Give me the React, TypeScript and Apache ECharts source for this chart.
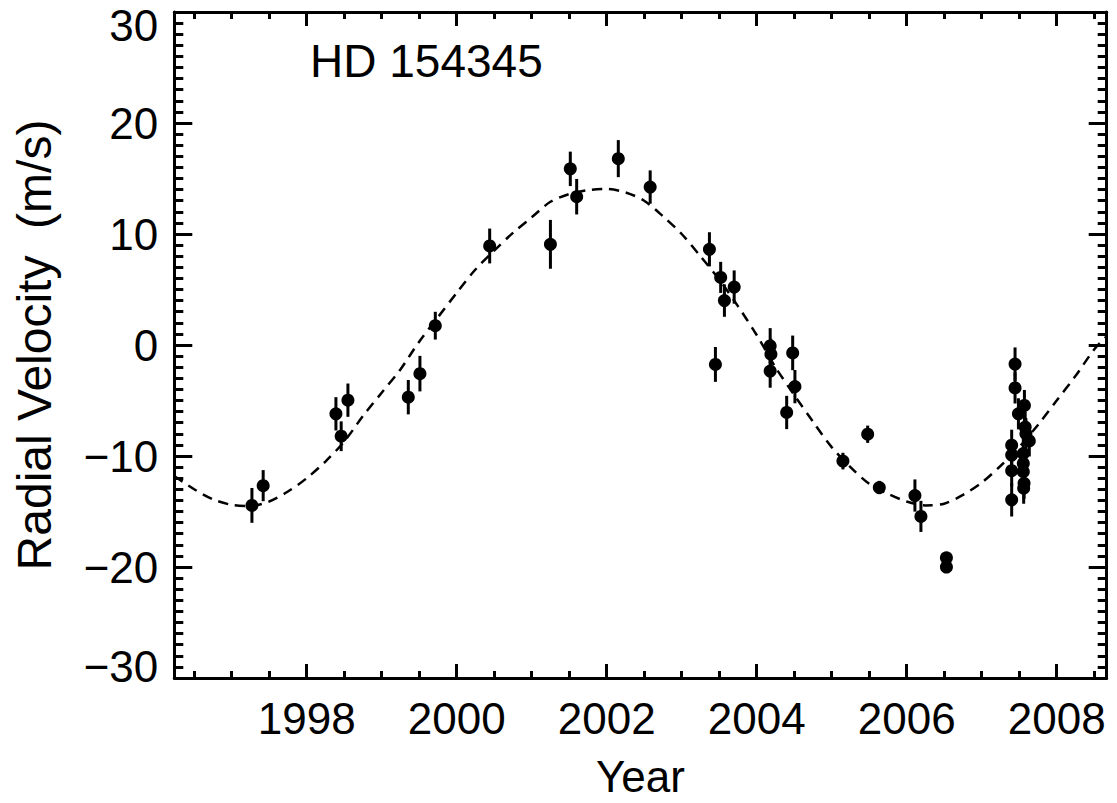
import React, { useEffect, useRef } from "react";
import * as echarts from "echarts";

// Observations: [year, radial velocity (m/s), error (m/s)]
const obsYear = [
  1997.27, 1997.42, 1998.39, 1998.46, 1998.55, 1999.355, 1999.51, 1999.715, 2000.44,
  2001.25, 2001.515, 2001.6, 2002.155, 2002.58, 2003.37, 2003.52, 2003.57, 2003.7, 2003.45,
  2004.18, 2004.19, 2004.18, 2004.48, 2004.51, 2004.4, 2005.15, 2005.48, 2005.635,
  2006.11, 2006.19, 2006.53, 2006.53,
  2007.445, 2007.445, 2007.57, 2007.49, 2007.58, 2007.59, 2007.635, 2007.4, 2007.4, 2007.4, 2007.4,
  2007.555, 2007.555, 2007.555, 2007.565, 2007.56,
];
const obsVel = [
  -14.45, -12.67, -6.2, -8.22, -4.97, -4.7, -2.58, 1.74, 8.92,
  9.07, 15.87, 13.36, 16.79, 14.23, 8.62, 6.09, 4.0, 5.22, -1.75,
  -0.08, -0.83, -2.35, -0.71, -3.75, -6.08, -10.46, -8.04, -12.84,
  -13.56, -15.44, -19.17, -20.0,
  -1.72, -3.87, -5.45, -6.2, -7.39, -7.99, -8.64, -9.03, -9.92, -11.32, -13.95,
  -9.78, -10.67, -11.41, -12.46, -12.9,
];
const obsErr = [
  1.57, 1.4, 1.5, 1.34, 1.5, 1.55, 1.6, 1.25, 1.57,
  2.2, 1.55, 1.6, 1.67, 1.5, 1.54, 1.4, 1.46, 1.5, 1.57,
  1.6, 1.4, 1.5, 1.56, 1.5, 1.5, 0.75, 0.78, 0.6,
  1.45, 1.4, 0.5, 0.5,
  1.5, 1.4, 1.4, 1.4, 1.4, 1.4, 1.4, 1.4, 1.4, 1.4, 1.5,
  1.4, 1.4, 1.4, 1.4, 1.4,
];

// Orbit fit curve
const fitYear = [
  1996.235, 1996.5, 1996.75, 1997.0, 1997.25, 1997.5, 1997.75, 1998.0, 1998.25, 1998.5,
  1998.75, 1999.0, 1999.25, 1999.5, 1999.75, 2000.0, 2000.25, 2000.5, 2000.75, 2001.0,
  2001.25, 2001.5, 2001.75, 2002.0, 2002.25, 2002.5, 2002.75, 2003.0, 2003.25, 2003.5,
  2003.75, 2004.0, 2004.25, 2004.5, 2004.75, 2005.0, 2005.25, 2005.5, 2005.75, 2006.0,
  2006.25, 2006.5, 2006.75, 2007.0, 2007.25, 2007.5, 2007.75, 2008.0, 2008.25, 2008.5,
  2008.667,
];
const fitVel = [
  -11.8, -13.0, -13.9, -14.4, -14.5, -14.1, -13.2, -12.0, -10.5, -8.7,
  -6.4, -4.3, -2.2, 0.3, 2.5, 4.7, 6.8, 8.5, 10.1, 11.5,
  12.9, 13.6, 13.95, 14.05, 13.75, 13.0, 11.6, 10.0, 8.0, 5.9,
  3.5, 0.9, -2.0, -4.5, -6.9, -9.2, -11.0, -12.5, -13.4, -14.1,
  -14.45, -14.3, -13.5, -12.4, -10.9, -9.2, -7.2, -5.0, -2.8, -0.4,
  0.8,
];

const xMajorTicks = [1998, 2000, 2002, 2004, 2006, 2008];
const xMinorTicks = [
  1996.5, 1997, 1997.5, 1998.5, 1999, 1999.5, 2000.5, 2001, 2001.5, 2002.5, 2003, 2003.5,
  2004.5, 2005, 2005.5, 2006.5, 2007, 2007.5, 2008.5,
];

const X_MIN = 1996.235;
const X_MAX = 2008.667;
const FONT = "'Liberation Sans', Arial, Helvetica, sans-serif";

export default function App() {
  const ref = useRef<HTMLDivElement>(null);

  useEffect(() => {
    if (!ref.current) return;
    const chart = echarts.init(ref.current, undefined, { renderer: "svg" });

    const points = obsYear.map((x, i) => [x, obsVel[i], obsErr[i]]);
    const fit = fitYear.map((x, i) => [x, fitVel[i]]);

    const black = "#000";
    const lineStyle = { color: black, width: 3 };
    const labelFont = { fontSize: 44, color: black, fontFamily: FONT };

    const xBase = (position: string, major: boolean, showLine: boolean, showLabel: boolean) => ({
      type: "value",
      min: X_MIN,
      max: X_MAX,
      position,
      axisLine: { show: showLine, onZero: false, lineStyle },
      axisTick: {
        show: true,
        inside: true,
        length: major ? 14 : 7,
        lineStyle,
        customValues: major ? xMajorTicks : xMinorTicks,
      },
      axisLabel: showLabel
        ? {
            show: true,
            customValues: xMajorTicks,
            ...labelFont,
            margin: 18,
            formatter: (v: number) => String(Math.round(v)),
          }
        : { show: false },
      splitLine: { show: false },
    });

    const yBase = (position: string, showLabel: boolean) => ({
      type: "value",
      min: -30,
      max: 30,
      interval: 10,
      position,
      axisLine: { show: true, onZero: false, lineStyle },
      axisTick: { show: true, inside: true, length: 18, lineStyle },
      minorTick: { show: true, splitNumber: 10, length: 9, lineStyle },
      axisLabel: showLabel
        ? {
            show: true,
            ...labelFont,
            margin: 16,
            formatter: (v: number) => {
              const s = String(v).replace("-", "\u2212");
              if (v === 30) return "{top|" + s + "}";
              if (v === -30) return "{bot|" + s + "}";
              return s;
            },
            rich: {
              top: { ...labelFont, padding: [26, 0, 0, 0] },
              bot: { ...labelFont, padding: [0, 0, 24, 0] },
            },
          }
        : { show: false },
      splitLine: { show: false },
      minorSplitLine: { show: false },
    });

    const xMain: any = xBase("bottom", true, true, true);
    xMain.name = "Year";
    xMain.nameLocation = "middle";
    xMain.nameGap = 76;
    xMain.nameTextStyle = { ...labelFont };

    const yMain: any = yBase("left", true);
    yMain.name = "Radial Velocity  (m/s)";
    yMain.nameLocation = "middle";
    yMain.nameGap = 116;
    yMain.nameTextStyle = { ...labelFont, fontSize: 48 };

    chart.setOption({
      animation: false,
      backgroundColor: "#fff",
      grid: { left: 174.3, right: 10.3, top: 12, bottom: 120.3, containLabel: false },
      xAxis: [
        xMain,
        xBase("bottom", false, false, false),
        xBase("top", true, true, false),
        xBase("top", false, false, false),
      ],
      yAxis: [yMain, yBase("right", false)],
      graphic: [
        {
          type: "text",
          left: 310,
          top: 38,
          style: {
            text: "HD 154345",
            fontSize: 46,
            fill: black,
            fontFamily: FONT,
          },
        },
      ],
      series: [
        {
          type: "line",
          data: fit,
          showSymbol: false,
          smooth: 0.3,
          lineStyle: { color: black, width: 2.5, type: [10, 7] },
          silent: true,
          z: 1,
        },
        {
          type: "custom",
          data: points,
          encode: { x: 0, y: 1 },
          renderItem: (_params: any, api: any) => {
            const x = api.value(0);
            const y = api.value(1);
            const e = api.value(2);
            const p1 = api.coord([x, y - e]);
            const p2 = api.coord([x, y + e]);
            return {
              type: "line",
              shape: { x1: p1[0], y1: p1[1], x2: p2[0], y2: p2[1] },
              style: { stroke: black, lineWidth: 3 },
            };
          },
          silent: true,
          z: 2,
        },
        {
          type: "scatter",
          data: points.map((p) => [p[0], p[1]]),
          symbol: "circle",
          symbolSize: 13,
          itemStyle: { color: black, opacity: 1 },
          silent: true,
          z: 3,
        },
      ],
    });

    return () => chart.dispose();
  }, []);

  return (
    <div
      ref={ref}
      style={{ position: "absolute", left: 0, top: 0, width: 1117, height: 803 }}
    />
  );
}
